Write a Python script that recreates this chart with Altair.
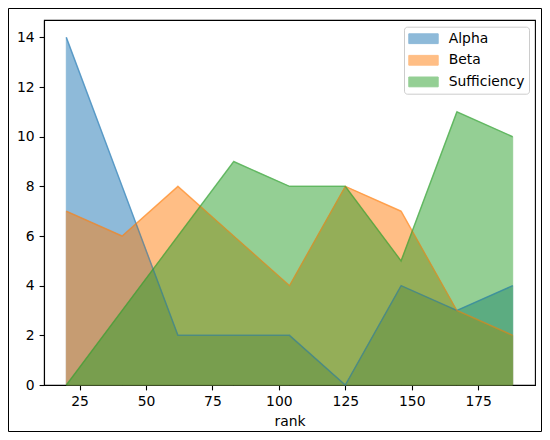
import altair as alt
import pandas as pd

rank = [20, 41, 62, 83, 104, 125, 146, 167, 188]
alpha = [14, 8, 2, 2, 2, 0, 4, 3, 4]
beta = [7, 6, 8, 6, 4, 8, 7, 3, 2]
sufficiency = [0, 3, 6, 9, 8, 8, 5, 11, 10]
series_names = ["Alpha", "Beta", "Sufficiency"]
series_colors = ["#1f77b4", "#ff7f0e", "#2ca02c"]
x_ticks = [25, 50, 75, 100, 125, 150, 175]
y_ticks = [0, 2, 4, 6, 8, 10, 12, 14]

rows = []
for name, vals in zip(series_names, [alpha, beta, sufficiency]):
    for r, v in zip(rank, vals):
        rows.append({"rank": r, "value": v, "series": name})
df = pd.DataFrame(rows)

FONT = "DejaVu Sans"
FS = 13.9

xscale = alt.Scale(domain=[11.6, 196.4], nice=False, zero=False)
yscale = alt.Scale(domain=[0, 14.7], nice=False, zero=False)
cscale = alt.Scale(domain=series_names, range=series_colors)

x_enc = alt.X("rank:Q", scale=xscale,
              axis=alt.Axis(values=x_ticks, title="rank", titlePadding=5.6))
y_enc = alt.Y("value:Q", scale=yscale, stack=False,
              axis=alt.Axis(values=y_ticks, title=None))

leg = alt.Legend(
    title=None, orient="none", legendX=360, legendY=6.7,
    symbolType="M-1.03,-0.7h4.2v1.4h-4.2Z", symbolSize=196,
    symbolStrokeWidth=1, symbolOpacity=0.5,
    labelFont=FONT, labelFontSize=FS, labelColor="black",
    labelOffset=25.2, rowPadding=6.6, padding=4.5,
    strokeColor="#cccccc", fillColor="white", cornerRadius=3,
    labelLimit=300,
)

base = alt.Chart(df)
areas = [
    base.transform_filter(alt.datum.series == n)
    .mark_area(opacity=0.5, strokeWidth=1)
    .encode(
        x=x_enc, y=y_enc,
        fill=alt.Fill("series:N", scale=cscale, legend=leg),
        stroke=alt.Stroke("series:N", scale=cscale, legend=leg),
    )
    for n in series_names
]
lines = [
    base.transform_filter(alt.datum.series == n)
    .mark_line(strokeWidth=1.5, opacity=0.5)
    .encode(
        x=x_enc, y=y_enc,
        stroke=alt.Stroke("series:N", scale=cscale, legend=leg),
    )
    for n in series_names
]
frame = alt.Chart(pd.DataFrame({"frame": [0]})).mark_rect(
    filled=False, stroke="black", strokeWidth=1
).encode(
    x=alt.value(-35.5), x2=alt.value(497.5),
    y=alt.value(-11.5), y2=alt.value(411.5),
)

chart = alt.layer(*areas, *lines, frame).properties(
    width=491, height=365,
    padding={"left": 36, "top": 12, "right": 7, "bottom": 47},
    autosize=alt.AutoSizeParams(type="none"),
).configure_axis(
    domainColor="black", domainWidth=1.1, tickColor="black", tickWidth=1.1,
    tickSize=4.9, labelPadding=4.9, labelFont=FONT, labelFontSize=FS,
    labelColor="black", titleFont=FONT, titleFontSize=FS,
    titleFontWeight="normal", titleColor="black", grid=False, zindex=1,
).configure_view(
    stroke="black", strokeWidth=1.1,
)

chart.save("out.html", embed_options={"renderer": "svg", "actions": False})
